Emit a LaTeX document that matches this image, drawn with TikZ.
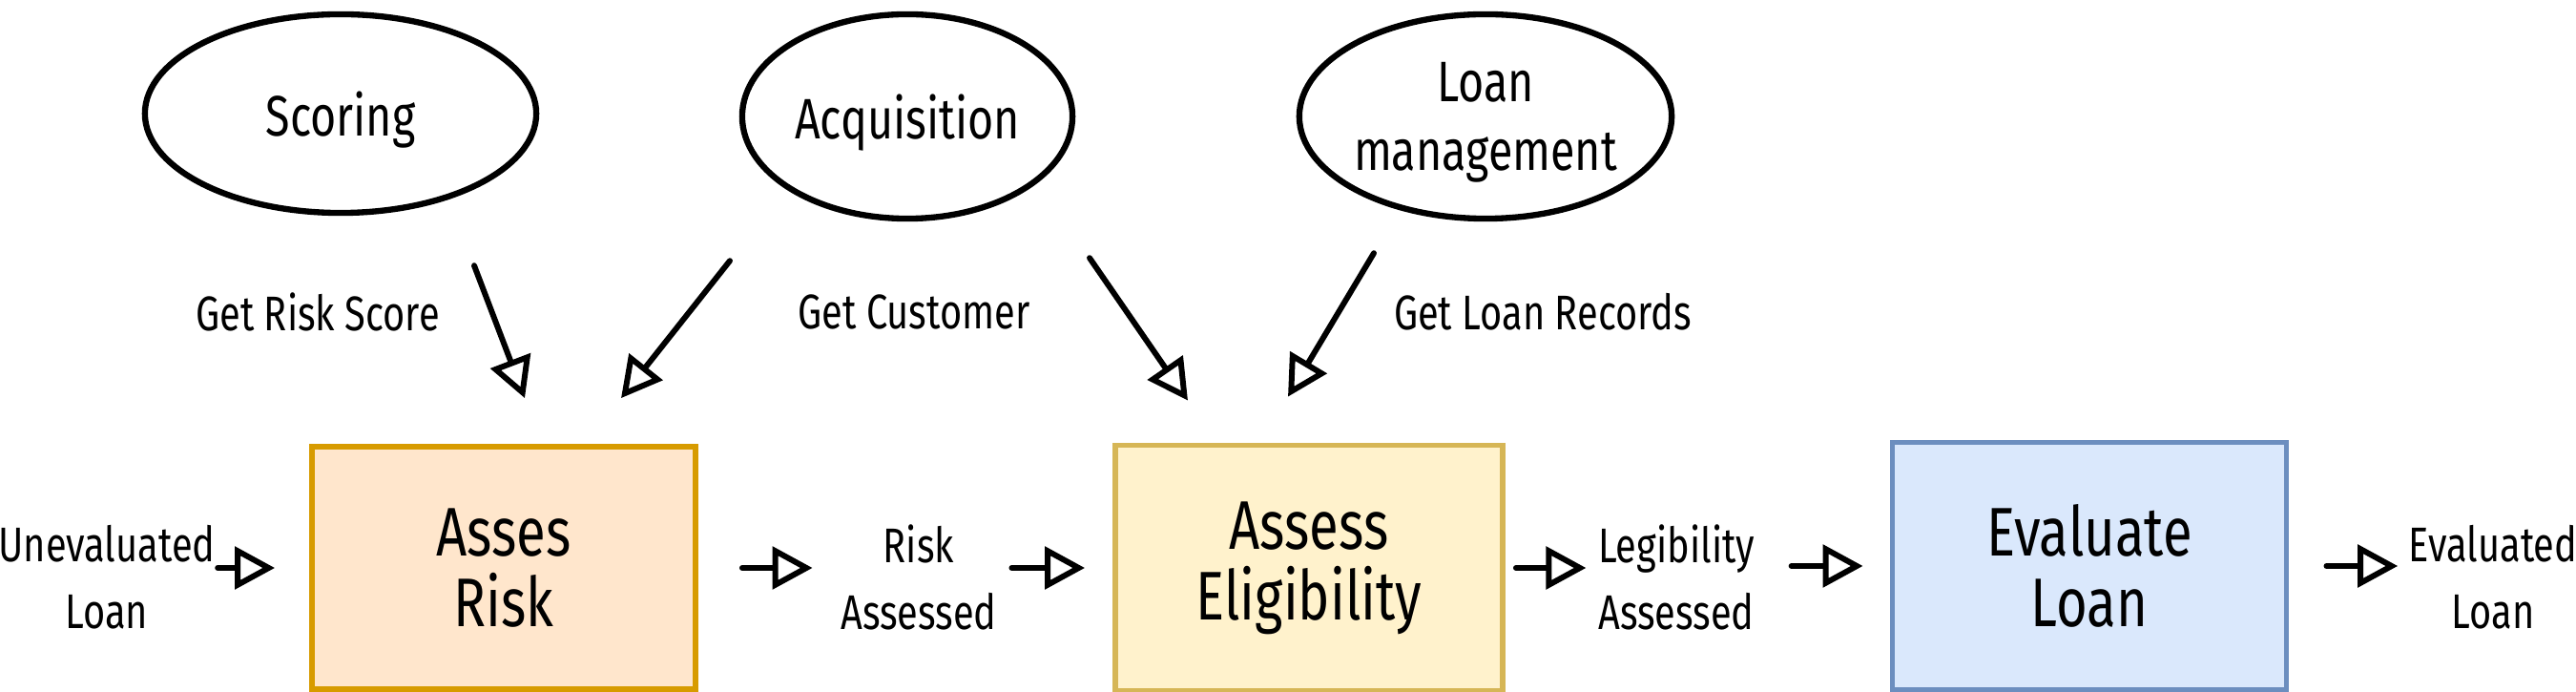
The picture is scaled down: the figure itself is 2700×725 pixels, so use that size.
\documentclass[tikz,border=0pt]{standalone}
\usepackage{fontspec}
\setmainfont{Fira Sans}[FakeStretch=0.78]
\usetikzlibrary{arrows.meta,shapes.geometric}
\definecolor{riskfill}{HTML}{FFE6CC}
\definecolor{riskline}{HTML}{D79B00}
\definecolor{eligfill}{HTML}{FFF2CC}
\definecolor{eligline}{HTML}{D6B656}
\definecolor{evalfill}{HTML}{DAE8FC}
\definecolor{evalline}{HTML}{6C8EBF}
\tikzset{
  ctx/.style={ellipse, draw, line width=1.8pt, inner sep=0pt, text depth=0pt, align=center, font=\fontsize{17}{20.5}\selectfont},
  stepbox/.style={rectangle, draw, line width=1.6pt, inner sep=0pt, align=center, font=\fontsize{20.5}{21}\selectfont},
  lbl/.style={inner sep=0pt, align=center, font=\fontsize{14.5}{20}\selectfont},
  flow/.style={line width=1.7pt, line cap=round, line join=round, -{Triangle[open, length=0.42cm, width=0.44cm]}}
}
\begin{document}
\begin{tikzpicture}[x=0.01cm, y=-0.01cm]
\useasboundingbox (0,0) rectangle (2700,725);
% bounded contexts
\foreach \n/\x/\y/\w/\h/\t in {scoring/357/119/4.10/2.08/Scoring, acq/951/122/3.46/2.14/Acquisition, loan/1557/122/3.42/2.14/{Loan\\management}}
  \node[ctx, minimum width=\w cm, minimum height=\h cm] (\n) at (\x,\y) {\t};
% process steps
\node[stepbox, fill=riskfill, draw=riskline, minimum width=4.02cm, minimum height=2.54cm] (risk) at (528,595) {Asses\\Risk};
\node[stepbox, fill=eligfill, draw=eligline, minimum width=4.06cm, minimum height=2.57cm] (elig) at (1372,595) {Assess\\Eligibility};
\node[stepbox, fill=evalfill, draw=evalline, minimum width=4.13cm, minimum height=2.59cm] (eval) at (2190,593) {Evaluate\\Loan};
% events and queries
\node[lbl] (uneval) at (112,605) {Unevaluated\\Loan};
\node[lbl] (riskas) at (963,605) {Risk\\Assessed};
\node[lbl] (legas) at (1757,605) {Legibility\\Assessed};
\node[lbl] (evald) at (2613,605) {Evaluated\\Loan};
\node[lbl] (getrisk) at (333,327) {Get Risk Score};
\node[lbl] (getcust) at (958,327) {Get Customer};
\node[lbl] (getloan) at (1617,327) {Get Loan Records};
% queries into the steps
\draw[flow] ([shift={(140,52)}]scoring.south) -- ([shift={(22,-48)}]risk.north);
\draw[flow] ([shift={(-186,41)}]acq.south) -- ([shift={(123,-48)}]risk.north);
\draw[flow] ([shift={(191,38)}]acq.south) -- ([shift={(-127,-44)}]elig.north);
\draw[flow] ([shift={(-117,33)}]loan.south) -- ([shift={(-22,-48)}]elig.north);
% main flow
\draw[flow, shorten <=0.02cm, shorten >=0.36cm] (uneval.east |- risk.west) -- (risk.west);
\draw[flow, shorten <=0.46cm, shorten >=0.29cm] (risk.east) -- (riskas.west |- risk.east);
\draw[flow, shorten <=0.15cm, shorten >=0.29cm] (riskas.east |- elig.west) -- (elig.west);
\draw[flow, shorten <=0.11cm, shorten >=0.12cm] (elig.east) -- (legas.west |- elig.east);
\draw[flow, shorten <=0.38cm, shorten >=0.28cm] (legas.east |- eval.west) -- (eval.west);
\draw[flow, shorten <=0.39cm, shorten >=0.11cm] (eval.east) -- (evald.west |- eval.east);
\end{tikzpicture}
\end{document}
